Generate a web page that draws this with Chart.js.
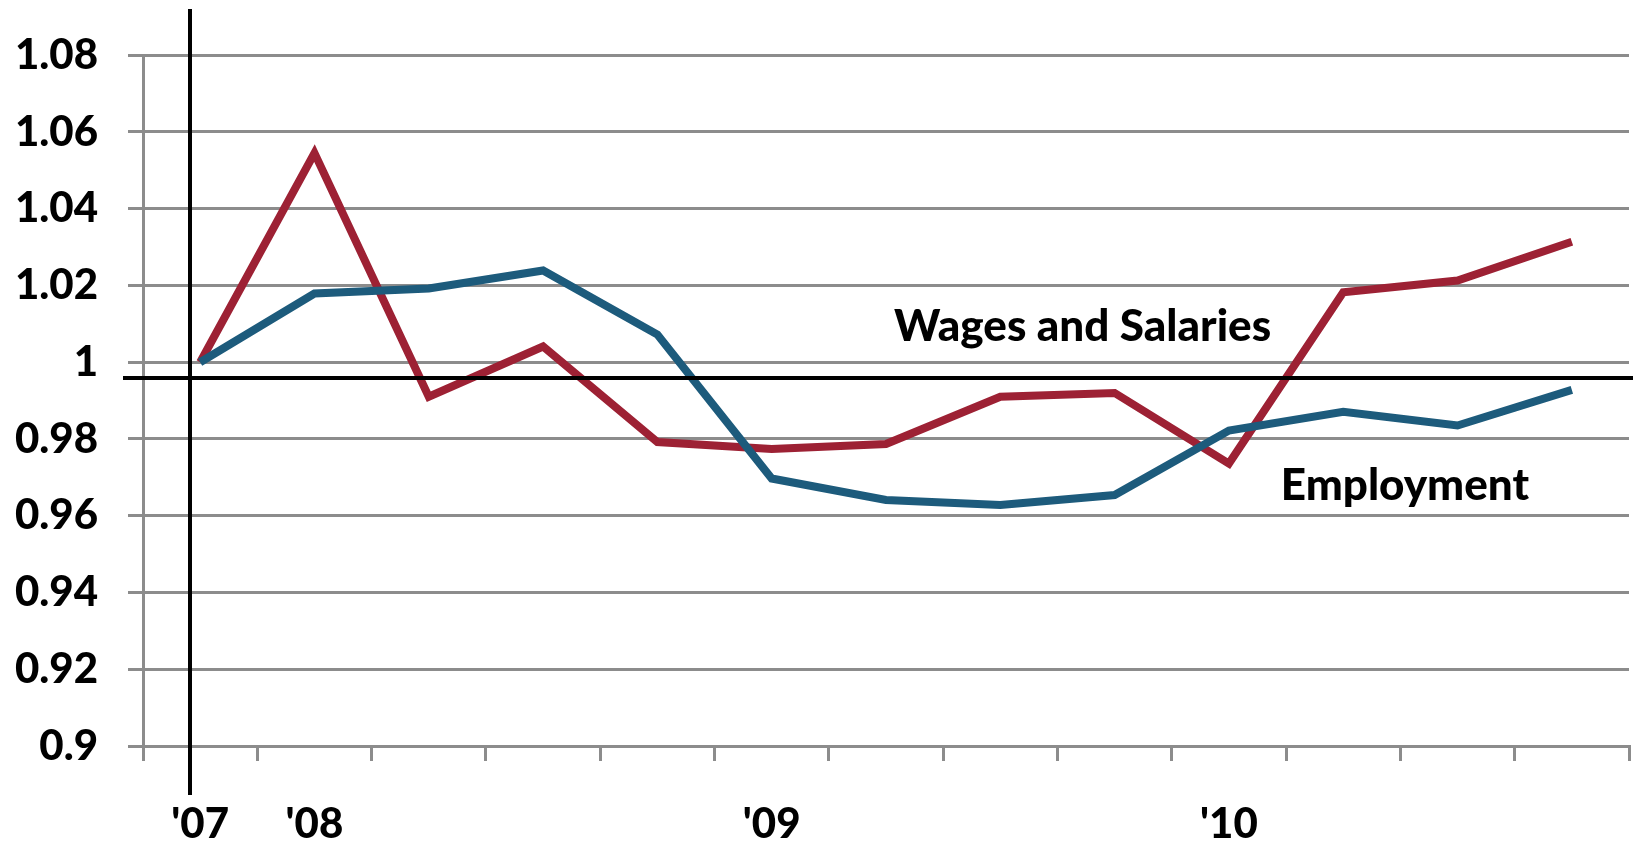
<!DOCTYPE html>
<html>
<head>
<meta charset="utf-8">
<script src="https://cdn.jsdelivr.net/npm/chart.js@4"></script>
<style>
  html, body { margin: 0; padding: 0; background: #fff; }
  #wrap { width: 1633px; height: 843px; }
</style>
</head>
<body>
<div id="wrap"><canvas id="chart"></canvas></div>
<script>
// quarters, Q4 2007 .. Q4 2010
const quarters = ["'07", "'08", '', '', '', "'09", '', '', '', "'10", '', '', ''];
const wages = [1.000, 1.0545, 0.991, 1.0041, 0.9792, 0.9774, 0.9787, 0.991, 0.992, 0.9736, 1.0182, 1.0213, 1.0314];
const employment = [1.000, 1.0179, 1.0192, 1.0239, 1.0072, 0.9697, 0.9641, 0.9628, 0.9654, 0.9822, 0.9871, 0.9835, 0.9928];

const seriesColors = { wages: '#9d2134', employment: '#1d5b7c' };
const gridGray = '#8c8c8c';

// text notes placed in data coords (category index, value)
const notes = [
    { text: 'Wages and Salaries', x: 7.72, y: 1.0055 },
    { text: 'Employment', x: 10.54, y: 0.964 }
];
const baseLineValue = 0.996;

const overlay = {
    id: 'overlay',
    afterDatasetsDraw(chart) {
        const { ctx, scales: { x, y }, chartArea } = chart;
        ctx.save();
        ctx.strokeStyle = '#000';
        ctx.lineWidth = 4;
        // horizontal reference line
        const hy = Math.round(y.getPixelForValue(baseLineValue));
        ctx.beginPath();
        ctx.moveTo(chartArea.left - 20, hy);
        ctx.lineTo(chart.width, hy);
        ctx.stroke();
        // vertical line just left of first quarter
        const step = x.getPixelForValue(1) - x.getPixelForValue(0);
        const vx = Math.round(x.getPixelForValue(0) - step * 0.09);
        ctx.beginPath();
        ctx.moveTo(vx, 9);
        ctx.lineTo(vx, chartArea.bottom + 49);
        ctx.stroke();

        ctx.fillStyle = '#000';
        ctx.font = '900 44px Lato';
        ctx.textAlign = 'center';
        ctx.textBaseline = 'alphabetic';
        notes.forEach(n => {
            ctx.fillText(n.text, x.getPixelForValue(n.x), y.getPixelForValue(n.y));
        });
        ctx.restore();
    }
};

new Chart(document.getElementById('chart'), {
    type: 'line',
    data: {
        labels: quarters,
        datasets: [
            {
                label: 'Employment',
                data: employment,
                borderColor: seriesColors.employment,
                borderWidth: 8,
                pointRadius: 0,
                tension: 0
            },
            {
                label: 'Wages and Salaries',
                data: wages,
                borderColor: seriesColors.wages,
                borderWidth: 8,
                pointRadius: 0,
                tension: 0
            }
        ]
    },
    options: {
        responsive: true,
        maintainAspectRatio: false,
        animation: false,
        layout: { padding: { top: 48, right: 4, left: 0, bottom: 0 } },
        plugins: { legend: { display: false }, tooltip: { enabled: false } },
        scales: {
            x: {
                offset: true,
                grid: { offset: true, drawOnChartArea: false, color: gridGray, lineWidth: 3, tickLength: 15 },
                border: { color: gridGray, width: 3 },
                ticks: {
                    autoSkip: false,
                    maxRotation: 0,
                    padding: 38,
                    color: '#000',
                    font: { family: 'Lato', weight: '900', size: 42 }
                },
                afterFit(scale) { scale.height = 97; }
            },
            y: {
                min: 0.9,
                max: 1.08,
                ticks: {
                    stepSize: 0.02,
                    padding: 30,
                    color: '#000',
                    font: { family: 'Lato', weight: '900', size: 42 },
                    callback: v => String(+v.toFixed(2))
                },
                grid: { color: gridGray, lineWidth: 3, tickLength: 15 },
                border: { color: gridGray, width: 3 },
                afterFit(scale) { scale.width = 143; }
            }
        }
    },
    plugins: [overlay]
});
</script>
</body>
</html>
